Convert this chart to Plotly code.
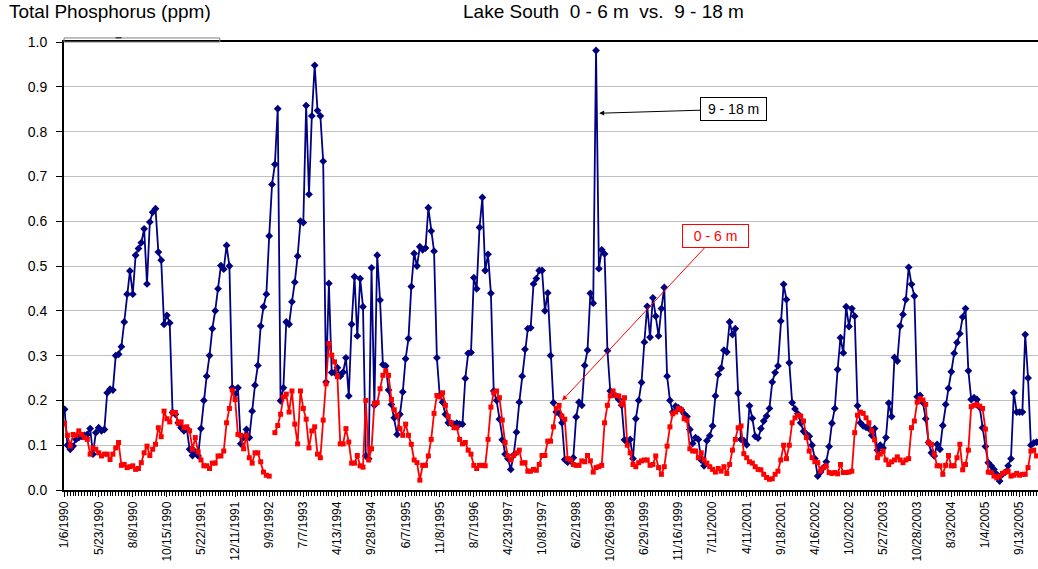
import plotly.graph_objects as go

# Sampling-date labels shown on the category axis (every 12th sample)
tick_labels = [
    "1/6/1990", "5/23/1990", "8/8/1990", "10/15/1990", "5/22/1991", "12/11/1991",
    "9/9/1992", "7/7/1993", "4/13/1994", "9/28/1994", "6/7/1995", "11/8/1995",
    "8/7/1996", "4/23/1997", "10/8/1997", "6/2/1998", "10/26/1998", "6/29/1999",
    "11/16/1999", "7/11/2000", "4/11/2001", "9/18/2001", "4/16/2002", "10/2/2002",
    "5/27/2003", "10/28/2003", "8/3/2004", "1/4/2005", "9/13/2005",
]
label_step = 12

# Total phosphorus (ppm), 9 - 18 m
deep_tp = [
    0.18, 0.10, 0.091, 0.098, 0.113, 0.117, 0.12, 0.122, 0.124, 0.137,
    0.08, 0.128, 0.139, 0.132, 0.135, 0.217, 0.225, 0.223, 0.30, 0.303,
    0.32, 0.375, 0.437, 0.489, 0.437, 0.524, 0.539, 0.552, 0.583, 0.46,
    0.598, 0.62, 0.628, 0.531, 0.513, 0.37, 0.39, 0.373, 0.173, 0.169,
    0.15, 0.139, 0.132, 0.137, 0.091, 0.077, 0.085, 0.076, 0.137, 0.2,
    0.254, 0.30, 0.36, 0.40, 0.449, 0.501, 0.493, 0.546, 0.5, 0.228,
    0.214, 0.228, 0.103, 0.117, 0.135, 0.117, 0.176, 0.234, 0.278, 0.366,
    0.409, 0.437, 0.567, 0.682, 0.727, 0.851, 0.199, 0.228, 0.375, 0.37,
    0.42, 0.464, 0.522, 0.6, 0.597, 0.858, 0.66, 0.835, 0.948, 0.847,
    0.835, 0.734, 0.241, 0.461, 0.262, 0.262, 0.273, 0.254, 0.263, 0.295,
    0.21, 0.37, 0.476, 0.344, 0.472, 0.409, 0.076, 0.07, 0.496, 0.189,
    0.524, 0.424, 0.28, 0.277, 0.223, 0.191, 0.161, 0.124, 0.169, 0.219,
    0.293, 0.338, 0.454, 0.528, 0.5, 0.543, 0.536, 0.54, 0.63, 0.578,
    0.533, 0.295, 0.211, 0.196, 0.169, 0.15, 0.149, 0.147, 0.149, 0.147,
    0.147, 0.249, 0.305, 0.307, 0.474, 0.449, 0.586, 0.653, 0.49, 0.526,
    0.439, 0.221, 0.2, 0.158, 0.112, 0.08, 0.07, 0.046, 0.078, 0.129,
    0.196, 0.254, 0.314, 0.36, 0.362, 0.46, 0.472, 0.49, 0.49, 0.4,
    0.44, 0.3, 0.195, 0.174, 0.171, 0.15, 0.068, 0.062, 0.065, 0.072,
    0.163, 0.196, 0.189, 0.278, 0.312, 0.439, 0.417, 0.981, 0.494, 0.536,
    0.527, 0.311, 0.221, 0.214, 0.21, 0.202, 0.189, 0.112, 0.106, 0.113,
    0.07, 0.159, 0.2, 0.24, 0.33, 0.41, 0.341, 0.429, 0.388, 0.344,
    0.405, 0.452, 0.254, 0.2, 0.174, 0.187, 0.183, 0.179, 0.17, 0.164,
    0.135, 0.104, 0.117, 0.113, 0.067, 0.054, 0.11, 0.121, 0.143, 0.21,
    0.258, 0.272, 0.312, 0.308, 0.375, 0.347, 0.36, 0.216, 0.113, 0.11,
    0.101, 0.188, 0.16, 0.12, 0.116, 0.137, 0.154, 0.165, 0.182, 0.241,
    0.262, 0.277, 0.377, 0.459, 0.425, 0.284, 0.195, 0.181, 0.17, 0.15,
    0.131, 0.125, 0.12, 0.1, 0.07, 0.031, 0.04, 0.05, 0.063, 0.097,
    0.149, 0.182, 0.269, 0.34, 0.306, 0.409, 0.365, 0.405, 0.388, 0.188,
    0.15, 0.143, 0.14, 0.137, 0.122, 0.137, 0.089, 0.1, 0.094, 0.117,
    0.194, 0.164, 0.296, 0.288, 0.366, 0.392, 0.425, 0.497, 0.459, 0.433,
    0.208, 0.211, 0.195, 0.159, 0.106, 0.083, 0.076, 0.102, 0.091, 0.144,
    0.191, 0.227, 0.264, 0.305, 0.329, 0.349, 0.386, 0.405, 0.266, 0.202,
    0.206, 0.202, 0.184, 0.139, 0.097, 0.061, 0.054, 0.046, 0.035, 0.02,
    0.035, 0.04, 0.054, 0.07, 0.217, 0.174, 0.174, 0.174, 0.347, 0.25,
    0.1, 0.105, 0.107,
]

# Total phosphorus (ppm), 0 - 6 m  (None = no sample)
surface_tp = [
    0.149, 0.122, 0.098, 0.124, 0.122, 0.132, 0.124, 0.117, 0.113, 0.08,
    0.094, 0.091, 0.083, 0.076, 0.08, 0.08, 0.068, 0.08, 0.094, 0.106,
    0.055, 0.057, 0.05, 0.052, 0.054, 0.046, 0.048, 0.061, 0.083, 0.098,
    0.077, 0.091, 0.102, 0.139, 0.119, 0.176, 0.159, 0.152, 0.173, 0.173,
    0.149, 0.152, 0.139, 0.141, 0.132, 0.091, 0.117, 0.085, 0.067, 0.054,
    0.054, 0.048, 0.06, 0.06, 0.076, 0.076, 0.087, 0.15, 0.182, 0.223,
    0.202, 0.124, 0.122, 0.092, 0.122, 0.072, 0.06, 0.083, 0.083, 0.063,
    0.04, 0.033, 0.031, None, 0.128, 0.144, 0.169, 0.208, 0.214, 0.174,
    0.221, 0.147, 0.103, 0.221, 0.182, 0.158, 0.094, 0.132, 0.141, 0.08,
    0.072, 0.156, 0.237, 0.327, 0.301, 0.286, 0.253, 0.103, 0.103, 0.137,
    0.107, 0.06, 0.06, 0.077, 0.054, 0.051, 0.2, 0.067, 0.092, 0.193,
    0.195, 0.226, 0.256, 0.266, 0.256, 0.202, 0.179, 0.167, 0.137, 0.122,
    0.147, 0.122, 0.102, 0.067, 0.061, 0.022, 0.055, 0.055, 0.076, 0.113,
    0.171, 0.211, 0.208, 0.217, 0.189, 0.164, 0.15, 0.139, 0.139, 0.113,
    0.103, 0.106, 0.089, 0.08, 0.055, 0.048, 0.055, 0.055, 0.054, 0.113,
    0.185, 0.217, 0.221, 0.206, 0.156, 0.106, 0.076, 0.067, 0.077, 0.083,
    0.089, 0.06, 0.061, 0.042, 0.042, 0.046, 0.044, 0.057, 0.077, 0.077,
    0.109, 0.109, 0.141, 0.182, 0.189, 0.165, 0.158, 0.07, 0.067, 0.057,
    0.055, 0.055, 0.065, 0.063, 0.077, 0.065, 0.04, 0.05, 0.052, 0.055,
    0.15, 0.189, 0.21, 0.221, 0.211, 0.21, 0.191, 0.206, 0.1, 0.083,
    0.057, 0.052, 0.061, 0.065, 0.067, 0.067, 0.055, 0.057, 0.076, 0.05,
    0.035, 0.052, 0.098, 0.141, 0.17, 0.174, 0.182, 0.179, 0.159, 0.156,
    0.092, 0.087, 0.087, 0.072, 0.083, 0.067, 0.06, 0.052, 0.046, 0.04,
    0.048, 0.042, 0.052, 0.037, 0.057, 0.089, 0.113, 0.139, 0.143, 0.081,
    0.072, 0.063, 0.06, 0.052, 0.046, 0.045, 0.035, 0.028, 0.024, 0.025,
    0.035, 0.042, 0.067, 0.1, 0.07, 0.1, 0.15, 0.161, 0.167, 0.165,
    0.154, 0.117, 0.087, 0.072, 0.063, 0.061, 0.042, 0.05, 0.054, 0.039,
    0.037, 0.039, 0.036, 0.057, 0.039, 0.039, 0.04, 0.042, 0.128, 0.167,
    0.174, 0.171, 0.161, 0.15, 0.132, 0.112, 0.072, 0.08, 0.087, 0.067,
    0.057, 0.063, 0.067, 0.074, 0.067, 0.061, 0.067, 0.07, 0.139, 0.154,
    0.196, 0.204, 0.201, 0.191, 0.106, 0.102, 0.08, 0.054, 0.054, 0.035,
    0.055, 0.077, 0.054, 0.054, 0.072, 0.102, 0.045, 0.057, 0.089, 0.186,
    0.189, 0.191, 0.187, 0.182, 0.136, 0.04, 0.039, 0.031, 0.027, 0.031,
    0.037, 0.04, 0.042, 0.031, 0.033, 0.037, 0.033, 0.035, 0.035, 0.05,
    0.087, 0.089, 0.076,
]

n = max(len(deep_tp), len(surface_tp))
sample_idx = list(range(n))
tick_idx = [k * label_step for k in range(len(tick_labels))]

FONT = "Arial, Liberation Sans, sans-serif"
NAVY = "#000080"
RED = "#FF0000"
NB = "\u00a0"

fig = go.Figure()

fig.add_trace(go.Scatter(
    x=sample_idx[:len(deep_tp)], y=deep_tp, mode="lines+markers", name="9 - 18 m",
    line=dict(color=NAVY, width=1.8),
    marker=dict(symbol="diamond", size=6, color=NAVY),
))
fig.add_trace(go.Scatter(
    x=sample_idx[:len(surface_tp)], y=surface_tp, mode="lines+markers", name="0 - 6 m",
    line=dict(color=RED, width=1.8),
    marker=dict(symbol="square", size=5, color=RED),
    connectgaps=False,
))

fig.update_layout(
    width=1038, height=569,
    margin=dict(l=64, r=0, t=42, b=79),
    paper_bgcolor="white", plot_bgcolor="white",
    showlegend=False,
    font=dict(family=FONT, color="black"),
)

fig.update_xaxes(
    range=[-0.2, n - 0.5],
    tickmode="array", tickvals=tick_idx, ticktext=tick_labels,
    tickangle=-90, tickfont=dict(size=12, family=FONT),
    ticks="outside", ticklen=5, tickcolor="black",
    minor=dict(tickmode="linear", tick0=0, dtick=1, ticks="outside",
               ticklen=4, tickcolor="black", showgrid=False),
    showline=True, linecolor="black", linewidth=1.5, mirror=True,
    showgrid=False, zeroline=False,
)
fig.update_yaxes(
    range=[0, 1.0], tickmode="linear", tick0=0, dtick=0.1, tickformat=".1f",
    tickfont=dict(size=14, family=FONT),
    ticks="outside", ticklen=6, tickcolor="black", ticklabelstandoff=6,
    showline=True, linecolor="black", linewidth=2,
    showgrid=True, gridcolor="#C0C0C0", gridwidth=1, zeroline=False,
)

# Remnant of a legend frame above the plot area
fig.add_shape(type="rect", xref="paper", yref="paper",
              x0=0.0, x1=0.16, y0=1.0, y1=1.009,
              line=dict(color="#808080", width=1), fillcolor="rgba(0,0,0,0)")
fig.add_shape(type="line", xref="paper", yref="paper",
              x0=0.053, x1=0.059, y0=1.0095, y1=1.0095,
              line=dict(color="#404040", width=1.5))

# Chart titles
fig.add_annotation(text="Total Phosphorus (ppm)", xref="paper", yref="paper",
                   x=-0.059, y=1.069, xanchor="left", yanchor="middle",
                   showarrow=False, font=dict(size=19, family=FONT))
fig.add_annotation(text=f"Lake South{NB}{NB}0 - 6 m{NB}{NB}vs.{NB}{NB}9 - 18 m",
                   xref="paper", yref="paper", x=0.554, y=1.069,
                   xanchor="center", yanchor="middle",
                   showarrow=False, font=dict(size=19, family=FONT))

# Series call-outs
fig.add_annotation(text=f"{NB}9 - 18 m{NB}", x=188.1, y=0.841, xref="x", yref="y",
                   ax=134, ay=-4, showarrow=True, arrowhead=2, arrowsize=1,
                   arrowwidth=1, arrowcolor="black",
                   bordercolor="black", borderwidth=1, borderpad=3, bgcolor="white",
                   font=dict(size=14, family=FONT, color="black"))
fig.add_annotation(text=f"{NB}{NB}0 - 6 m{NB}{NB}", x=175.1, y=0.20, xref="x", yref="y",
                   ax=153, ay=-164, showarrow=True, arrowhead=2, arrowsize=1,
                   arrowwidth=1, arrowcolor=RED,
                   bordercolor=RED, borderwidth=1, borderpad=3, bgcolor="white",
                   font=dict(size=14, family=FONT, color=RED))

fig.write_html("out.html")
